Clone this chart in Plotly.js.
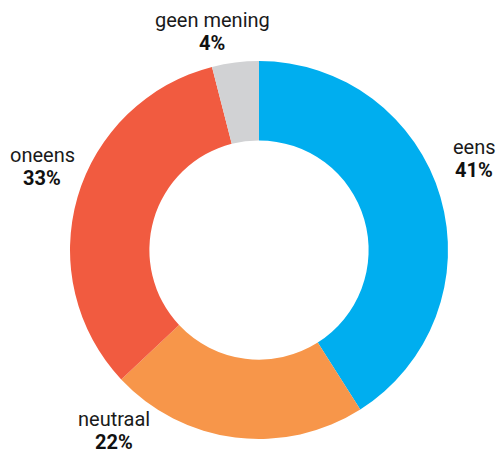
<!DOCTYPE html>
<html><head><meta charset="utf-8">
<script src="https://cdn.plot.ly/plotly-3.0.1.min.js"></script>
<style>html,body{margin:0;padding:0;background:#fff}#c{width:498px;height:454px}</style>
</head><body><div id="c"></div>
<script>
const labels = ["eens", "neutraal", "oneens", "geen mening"];
const values = [41, 22, 33, 4];
const colors = ["#00AEEF", "#F7964A", "#F15B40", "#D1D2D4"];
// label block centers (pixels) - layout only
const labelPos = [[474, 147], [114, 419], [42, 155], [212, 20]];
const W = 498, H = 454, lineGap = 23;

const annotations = [];
labels.forEach((l, i) => {
  const [px, py] = labelPos[i];
  annotations.push({text: l, x: px / W, y: 1 - py / H, xref: "paper", yref: "paper",
    xanchor: "center", yanchor: "middle", showarrow: false,
    font: {family: "Roboto", size: 20, color: "#1a1a1a"}});
  annotations.push({text: "<b>" + values[i] + "%</b>", x: px / W, y: 1 - (py + lineGap) / H,
    xref: "paper", yref: "paper", xanchor: "center", yanchor: "middle", showarrow: false,
    font: {family: "Roboto", size: 20, color: "#111111"}});
});

const cx = 259, cy = 250, r = 189;
Plotly.newPlot("c", [{
  type: "pie", labels: labels, values: values, hole: 0.58, sort: false,
  direction: "clockwise", rotation: 0, textinfo: "none", hoverinfo: "none",
  marker: {colors: colors, line: {width: 0}},
  domain: {x: [(cx - r) / W, (cx + r) / W], y: [1 - (cy + r) / H, 1 - (cy - r) / H]}
}], {
  width: W, height: H, margin: {l: 0, r: 0, t: 0, b: 0}, showlegend: false,
  paper_bgcolor: "#fff", annotations: annotations
}, {staticPlot: true, displayModeBar: false});
</script></body></html>
